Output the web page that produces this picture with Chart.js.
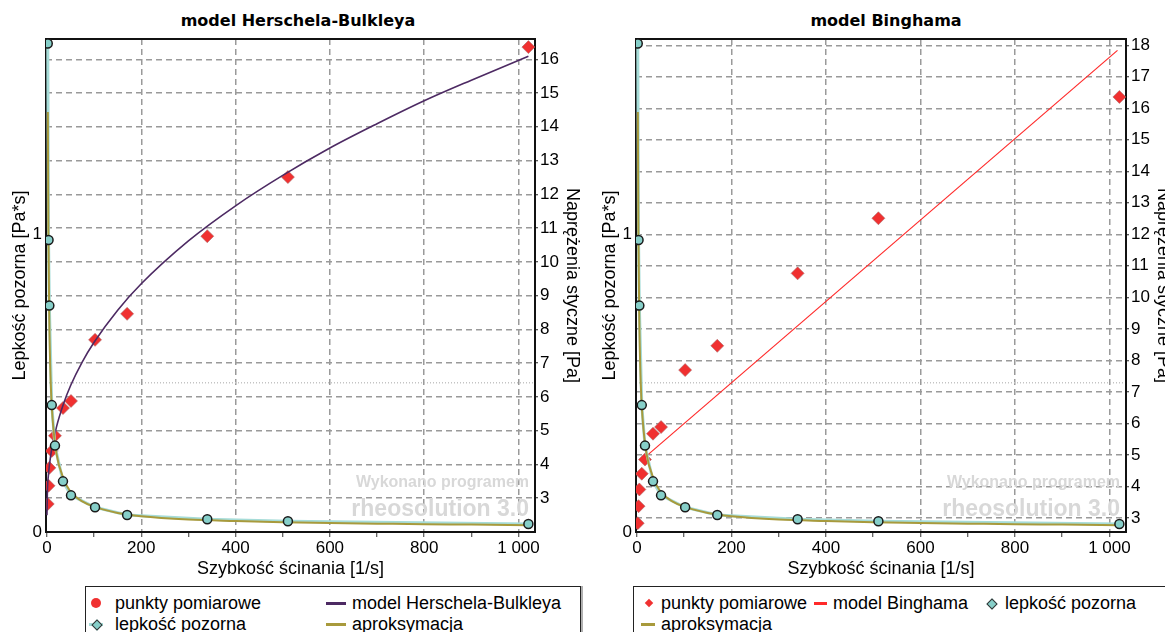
<!DOCTYPE html>
<html>
<head>
<meta charset="utf-8">
<script src="https://cdn.jsdelivr.net/npm/chart.js"></script>
<style>
  body { margin: 0; width: 1165px; height: 632px; overflow: hidden; background: #fff; position: relative;
         font-family: "Liberation Sans", Arial, sans-serif; color: #000; }
  .wrap { position: absolute; top: 0; height: 585px; }
  .title { position: absolute; top: 11px; line-height: 20px; font: bold 16px "DejaVu Sans", sans-serif;
           transform: translateX(-50%); white-space: nowrap; }
  .legend { position: absolute; top: 586px; height: 60px; border: 1px solid #222; box-shadow: 2px 0 0 #b0b0b0;
            background: #fff; font-size: 18px; }
  .mk { position: absolute; }
  .txt { position: absolute; line-height: 20px; white-space: nowrap; }
</style>
</head>
<body>
<div class="title" style="left:298px">model Herschela-Bulkleya</div>
<div class="title" style="left:886px">model Binghama</div>
<div class="wrap" style="left:0;width:583px"><canvas id="hbChart"></canvas></div>
<div class="wrap" style="left:590px;width:584px"><canvas id="binghamChart"></canvas></div>
<div class="legend" id="hbLegend" style="left:85px;width:494px"></div>
<div class="legend" id="binghamLegend" style="left:633px;width:600px"></div>
<script>
    // measured points (shear rate [1/s], shear stress [Pa], apparent viscosity [Pa*s])
    const shearRate = [1.7, 3.4, 5.1, 10.2, 17, 34, 51, 102, 170, 340, 511, 1021];
    const shearStress = [2.83, 3.37, 3.9, 4.4, 4.85, 5.67, 5.88, 7.69, 8.46, 10.76, 12.51, 16.36];
    const apparentVisc = [1.64, 0.98, 0.76, 0.426, 0.29, 0.17, 0.123, 0.083, 0.057, 0.043, 0.036, 0.027];

    // viscosity approximation curve
    const approxRate = [1.9, 3, 5, 8, 12, 20, 35, 50, 75, 100, 150, 200, 300, 400, 500, 600, 700, 800, 900, 1021];
    const approxVisc = [1.41, 1.02, 0.71, 0.5, 0.38, 0.265, 0.18, 0.135, 0.103, 0.085, 0.064, 0.053, 0.042, 0.037, 0.033, 0.03, 0.028, 0.026, 0.025, 0.023];

    // Herschel-Bulkley model curve
    const hbRate = [0, 1, 3, 5, 10, 20, 35, 50, 75, 100, 150, 200, 300, 400, 500, 600, 700, 800, 900, 1021];
    const hbStress = [2.5, 3.24, 3.67, 3.95, 4.45, 5.1, 5.79, 6.33, 7.04, 7.62, 8.57, 9.35, 10.62, 11.66, 12.56, 13.37, 14.09, 14.77, 15.38, 16.09];

    // Bingham model line
    const binghamRate = [13, 1017];
    const binghamStress = [4.87, 17.84];

    // tick values
    const rateTicks = [0, 100, 200, 300, 400, 500, 600, 700, 800, 900, 1000];
    const viscTicks = [0, 0.5, 1];
    const hbStressTicks = [3, 4, 5, 6, 7, 8, 9, 10, 11, 12, 13, 14, 15, 16];
    const binghamStressTicks = [3, 4, 5, 6, 7, 8, 9, 10, 11, 12, 13, 14, 15, 16, 17, 18];

    const labels = {
        points: 'punkty pomiarowe',
        hb: 'model Herschela-Bulkleya',
        bingham: 'model Binghama',
        visc: 'lepkość pozorna',
        approx: 'aproksymacja'
    };

    const colors = {
        points: '#f03030',
        hb: '#4d2a63',
        bingham: '#ff2a2a',
        viscLine: '#a6dcd8',
        viscPoint: '#86cfc9',
        approx: '#a89a3c',
        grid: '#9a9a9a'
    };

    Chart.defaults.font.family = '"Liberation Sans", Arial, sans-serif';
    Chart.defaults.color = '#000';

    const pairs = (xs, ys) => xs.map((x, i) => ({x: x, y: ys[i]}));

    // watermark + plot frame
    const framePlugin = {
        id: 'frame',
        beforeDatasetsDraw(chart) {
            const {ctx, chartArea: a} = chart;
            ctx.save();
            ctx.fillStyle = '#d8d8d8';
            ctx.textAlign = 'right';
            ctx.textBaseline = 'middle';
            ctx.font = 'bold 16px "Liberation Sans", Arial, sans-serif';
            ctx.fillText('Wykonano programem', a.right - 6, a.bottom - 49);
            ctx.font = 'bold 23px "Liberation Sans", Arial, sans-serif';
            ctx.fillText('rheosolution 3.0', a.right - 6, a.bottom - 22);
            ctx.strokeStyle = '#111';
            ctx.lineWidth = 2;
            ctx.strokeRect(a.left, a.top, a.right - a.left, a.bottom - a.top);
            ctx.restore();
        }
    };

    function buildScales(stressMin, stressMax, stressTicks) {
        return {
            x: {
                type: 'linear', min: -2, max: 1035,
                afterBuildTicks: s => { s.ticks = rateTicks.map(v => ({value: v})); },
                afterFit: s => { s.height = 53; },
                ticks: {
                    autoSkip: false, maxRotation: 0, padding: 1, font: {size: 17},
                    callback: v => v % 200 === 0 ? (v === 1000 ? '1 000' : String(v)) : ''
                },
                grid: {
                    color: c => (c.tick && c.tick.value > 0 && c.tick.value % 200 === 0) ? colors.grid : 'transparent',
                    lineWidth: 1.5, tickLength: 5, tickColor: '#333', tickWidth: 1
                },
                border: {display: false, dash: [6, 4]},
                title: {display: true, text: 'Szybkość ścinania [1/s]', font: {size: 18}, padding: {top: 0, bottom: 5}}
            },
            yv: {
                type: 'linear', position: 'left', min: 0, max: 1.655,
                afterBuildTicks: s => { s.ticks = viscTicks.map(v => ({value: v})); },
                afterFit: s => { s.width = 46; },
                ticks: {padding: 4, font: {size: 17}, callback: v => v === 0.5 ? '' : String(v)},
                grid: {
                    color: c => (c.tick && c.tick.value === 0.5) ? '#c4c4c4' : 'transparent',
                    drawTicks: false, lineWidth: 1.5
                },
                border: {display: false, dash: [1, 2]},
                title: {display: true, text: 'Lepkość pozorna [Pa*s]', font: {size: 18}, padding: {top: 9, bottom: 0}}
            },
            ys: {
                type: 'linear', position: 'right', min: stressMin, max: stressMax,
                afterBuildTicks: s => { s.ticks = stressTicks.map(v => ({value: v})); },
                afterFit: s => { s.width = 48; },
                ticks: {padding: 2, font: {size: 17}, autoSkip: false},
                grid: {color: colors.grid, lineWidth: 1.5, tickLength: 3, tickColor: '#222', tickWidth: 1},
                border: {display: false, dash: [6, 4]},
                title: {display: true, text: 'Naprężenia styczne [Pa]', font: {size: 18}, padding: {top: 0, bottom: 0}}
            }
        };
    }

    function viscDatasets() {
        return [
            {
                label: labels.visc, data: pairs(shearRate, apparentVisc), yAxisID: 'yv', showLine: true,
                borderColor: colors.viscLine, borderWidth: 3, pointRadius: 0, order: 3
            },
            {
                label: labels.approx, data: pairs(approxRate, approxVisc), yAxisID: 'yv', showLine: true,
                borderColor: colors.approx, borderWidth: 2, pointRadius: 0, cubicInterpolationMode: 'monotone', order: 2
            },
            {
                label: labels.visc, data: pairs(shearRate, apparentVisc), yAxisID: 'yv', showLine: false,
                pointStyle: 'circle', pointRadius: 4.5, backgroundColor: colors.viscPoint,
                borderColor: '#1a1a1a', borderWidth: 1.5, order: 1
            }
        ];
    }

    function pointsDataset() {
        return {
            label: labels.points, data: pairs(shearRate, shearStress), yAxisID: 'ys', showLine: false,
            pointStyle: 'rectRot', pointRadius: 6.5, backgroundColor: colors.points,
            borderColor: 'rgba(170,110,110,0.6)', borderWidth: 1, order: 5
        };
    }

    const baseOptions = {
        responsive: true,
        maintainAspectRatio: false,
        animation: false,
        layout: {padding: {top: 39, left: 0, right: 0, bottom: 0}},
        plugins: {legend: {display: false}, tooltip: {enabled: false}}
    };

    new Chart(document.getElementById('hbChart'), {
        type: 'scatter',
        data: {
            datasets: [
                pointsDataset(),
                {
                    label: labels.hb, data: pairs(hbRate, hbStress), yAxisID: 'ys', showLine: true,
                    borderColor: colors.hb, borderWidth: 1.6, pointRadius: 0, cubicInterpolationMode: 'monotone', order: 4
                }
            ].concat(viscDatasets())
        },
        options: Object.assign({}, baseOptions, {scales: buildScales(2, 16.6, hbStressTicks)}),
        plugins: [framePlugin]
    });

    new Chart(document.getElementById('binghamChart'), {
        type: 'scatter',
        data: {
            datasets: [
                pointsDataset(),
                {
                    label: labels.bingham, data: pairs(binghamRate, binghamStress), yAxisID: 'ys', showLine: true,
                    borderColor: colors.bingham, borderWidth: 1.2, pointRadius: 0, order: 4
                }
            ].concat(viscDatasets())
        },
        options: Object.assign({}, baseOptions, {scales: buildScales(2.55, 18.2, binghamStressTicks)}),
        plugins: [framePlugin]
    });

    // html legends
    function marker(kind, color) {
        const el = document.createElement('span');
        el.className = 'mk';
        if (kind === 'dot') {
            Object.assign(el.style, {width: '10px', height: '10px', borderRadius: '50%', background: color, left: '-5px', top: '-5px'});
        } else if (kind === 'diamond') {
            Object.assign(el.style, {width: '6px', height: '6px', background: color, transform: 'rotate(45deg)',
                left: '-3px', top: '-3px', border: color === colors.points ? 'none' : '1px solid #333'});
        } else {
            const w = kind.w;
            Object.assign(el.style, {width: w + 'px', height: '3px', background: color, left: (-w / 2) + 'px', top: '-1.5px'});
        }
        return el;
    }

    function buildLegend(id, items) {
        const box = document.getElementById(id);
        items.forEach(it => {
            const holder = document.createElement('span');
            holder.className = 'mk';
            holder.style.left = it.mx + 'px';
            holder.style.top = it.row + 'px';
            it.marks.forEach(m => holder.appendChild(marker(m[0], m[1])));
            box.appendChild(holder);
            const t = document.createElement('span');
            t.className = 'txt';
            t.textContent = it.text;
            t.style.left = it.tx + 'px';
            t.style.top = (it.row - 10) + 'px';
            box.appendChild(t);
        });
    }

    buildLegend('hbLegend', [
        {text: labels.points, marks: [['dot', colors.points]], mx: 10, tx: 29, row: 16},
        {text: labels.hb, marks: [[{w: 20}, colors.hb]], mx: 250, tx: 266, row: 16},
        {text: labels.visc, marks: [[{w: 14}, colors.viscLine], ['diamond', colors.viscPoint]], mx: 10, tx: 29, row: 37},
        {text: labels.approx, marks: [[{w: 20}, colors.approx]], mx: 250, tx: 266, row: 37}
    ]);

    buildLegend('binghamLegend', [
        {text: labels.points, marks: [['diamond', colors.points]], mx: 15, tx: 27, row: 16},
        {text: labels.bingham, marks: [[{w: 13}, colors.bingham]], mx: 186, tx: 199, row: 16},
        {text: labels.visc, marks: [['diamond', colors.viscPoint]], mx: 357, tx: 371, row: 16},
        {text: labels.approx, marks: [[{w: 14}, colors.approx]], mx: 14, tx: 27, row: 37}
    ]);
</script>
</body>
</html>
